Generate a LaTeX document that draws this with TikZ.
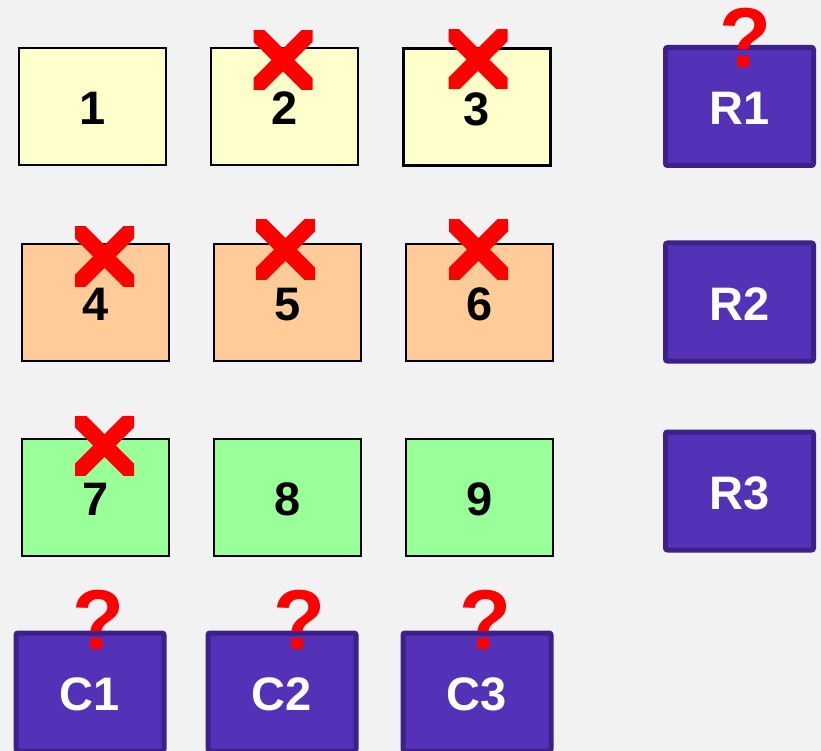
\documentclass[tikz,border=0pt]{standalone}
\usepackage{fontspec}
\setmainfont{Liberation Sans}
\usepackage{tikz}
\usetikzlibrary{positioning}
\definecolor{pagegrey}{RGB}{242,242,242}
\definecolor{paleyellow}{RGB}{255,255,204}
\definecolor{paleorange}{RGB}{255,204,153}
\definecolor{palegreen}{RGB}{153,255,153}
\definecolor{violetfill}{RGB}{84,50,184}
\definecolor{violetedge}{RGB}{61,33,136}
\definecolor{markred}{RGB}{255,0,0}
\tikzset{
  base/.style={font=\fontsize{47}{47}\selectfont\bfseries, align=center, inner sep=0pt, text height=36.5pt, text depth=0pt},
  cell/.style={base, rectangle, draw=black, line width=2.4pt, minimum width=147pt, minimum height=117pt},
  yellowcell/.style={cell, fill=paleyellow},
  orangecell/.style={cell, fill=paleorange},
  greencell/.style={cell, fill=palegreen},
  violetcell/.style={base, rectangle, rounded corners=2pt, draw=violetedge, fill=violetfill, text=white, line width=5pt, minimum width=148pt, minimum height=118pt},
  ask/.style={font=\fontsize{85}{85}\selectfont\bfseries, text=markred, anchor=base, inner sep=0pt},
}
\newcommand{\redcross}[2]{%
  \begin{scope}
    \clip ({#1-29.5},{#2-29.5}) rectangle ({#1+29.5},{#2+29.5});
    \draw[markred, line width=16pt] ({#1-40},{#2-40}) -- ({#1+40},{#2+40}) ({#1-40},{#2+40}) -- ({#1+40},{#2-40});
  \end{scope}}

\begin{document}
\begin{tikzpicture}[x=1pt, y=-1pt]
  \clip (0,0) rectangle (821,751);
  \fill[pagegrey] (0,0) rectangle (821,751);
  % grid of cells
  \node[yellowcell] (n1) at (92.5,106.5)  {1};
  \node[yellowcell] (n2) at (284.5,106.5) {2};
  \node[yellowcell] (n3) at (477,107)     {3};
  \node[orangecell] (n4) at (95.5,302.5)  {4};
  \node[orangecell] (n5) at (287.5,302.5) {5};
  \node[orangecell] (n6) at (479.5,302.5) {6};
  \node[greencell]  (n7) at (95.5,497.5)  {7};
  \node[greencell]  (n8) at (287.5,497.5) {8};
  \node[greencell]  (n9) at (479.5,497.5) {9};
  % row and column heads
  \node[violetcell] (r1) at (739.5,106.5) {R1};
  \node[violetcell] (r2) at (739.5,302)   {R2};
  \node[violetcell] (r3) at (739.5,491)   {R3};
  \node[violetcell] (c1) at (90,692)      {C1};
  \node[violetcell] (c2) at (282,692)     {C2};
  \node[violetcell] (c3) at (477,692)     {C3};
  % ruled out
  \redcross{283}{60}
  \redcross{478}{59.5}
  \redcross{104.5}{256.5}
  \redcross{285.5}{249.5}
  \redcross{478.5}{249.5}
  \redcross{104.5}{445.5}
  % unknown
  \node[ask] (q1) at (745,68)   {?};
  \node[ask] (q2) at (98.5,649) {?};
  \node[ask] (q3) at (299,649)  {?};
  \node[ask] (q4) at (485,649)  {?};
\end{tikzpicture}
\end{document}
